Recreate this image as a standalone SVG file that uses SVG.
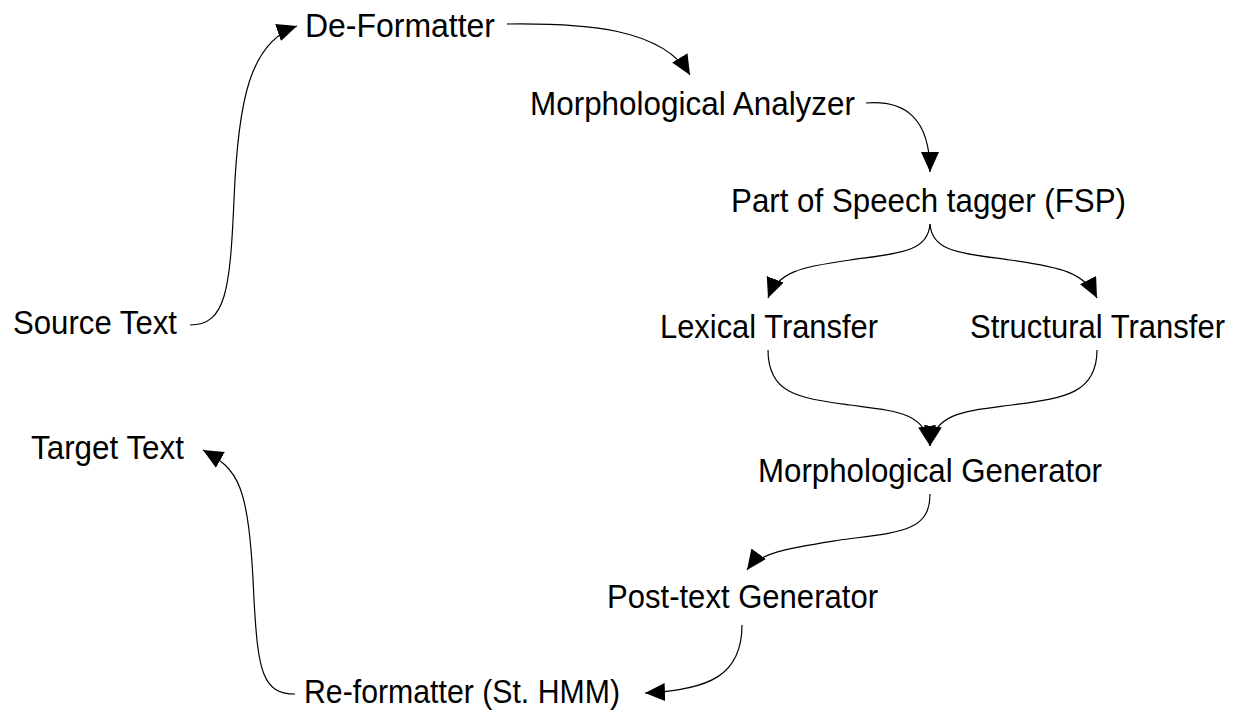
<svg xmlns="http://www.w3.org/2000/svg" width="1241" height="715" viewBox="0 0 1241 715">
  <style>
    .label { font-family: "Liberation Sans", Arial, sans-serif; font-size: 32.5px; fill: #000; }
    .edge { fill: none; stroke: #000; stroke-width: 1.2; }
  </style>
  <defs>
    <marker id="arrow" markerUnits="userSpaceOnUse" markerWidth="22" markerHeight="20" refX="20" refY="9" orient="auto">
      <path d="M0,0 L20,9 L0,18 Z" fill="#000"/>
    </marker>
  </defs>

  <rect width="1241" height="715" fill="#fff"/>

  <!-- pipeline connectors -->
  <g id="connectors">
    <path class="edge" marker-end="url(#arrow)" d="M190,325 C226,325 230,290 234,200 C238,100 250,42 297,26"/>
    <path class="edge" marker-end="url(#arrow)" d="M507,24 C585,23 662,28 690,75"/>
    <path class="edge" marker-end="url(#arrow)" d="M866,103 C905,100 930,118 930,172"/>
    <path class="edge" marker-end="url(#arrow)" d="M930,224 C928,252 900,253 850,260 C800,267 778,272 768,298"/>
    <path class="edge" marker-end="url(#arrow)" d="M930,224 C932,252 960,253 1010,260 C1060,267 1084,272 1097,298"/>
    <path class="edge" marker-end="url(#arrow)" d="M768,350 C768,395 800,398 850,405 C895,411 925,412 930,446"/>
    <path class="edge" marker-end="url(#arrow)" d="M1097,350 C1097,395 1062,398 1012,405 C967,411 935,412 930,446"/>
    <path class="edge" marker-end="url(#arrow)" d="M930,494 C930,532 900,532 840,540 C790,548 760,552 747,570"/>
    <path class="edge" marker-end="url(#arrow)" d="M742,625 C742,675 710,690 645,693"/>
    <path class="edge" marker-end="url(#arrow)" d="M295,694 C262,694 258,670 254,600 C249,480 238,470 203,450"/>
  </g>

  <g id="source-text"><text class="label" x="13" y="334" textLength="164" lengthAdjust="spacingAndGlyphs">Source Text</text></g>
  <g id="de-formatter"><text class="label" x="305" y="37" textLength="190" lengthAdjust="spacingAndGlyphs">De-Formatter</text></g>
  <g id="morphological-analyzer"><text class="label" x="530" y="115" textLength="325" lengthAdjust="spacingAndGlyphs">Morphological Analyzer</text></g>
  <g id="pos-tagger"><text class="label" x="731" y="212" textLength="395" lengthAdjust="spacingAndGlyphs">Part of Speech tagger (FSP)</text></g>
  <g id="lexical-transfer"><text class="label" x="660" y="338" textLength="218" lengthAdjust="spacingAndGlyphs">Lexical Transfer</text></g>
  <g id="structural-transfer"><text class="label" x="970" y="338" textLength="255" lengthAdjust="spacingAndGlyphs">Structural Transfer</text></g>
  <g id="morphological-generator"><text class="label" x="758" y="482" textLength="344" lengthAdjust="spacingAndGlyphs">Morphological Generator</text></g>
  <g id="post-text-generator"><text class="label" x="607" y="608" textLength="271" lengthAdjust="spacingAndGlyphs">Post-text Generator</text></g>
  <g id="re-formatter"><text class="label" x="304" y="703" textLength="316" lengthAdjust="spacingAndGlyphs">Re-formatter (St. HMM)</text></g>
  <g id="target-text"><text class="label" x="31" y="459" textLength="153" lengthAdjust="spacingAndGlyphs">Target Text</text></g>
</svg>
